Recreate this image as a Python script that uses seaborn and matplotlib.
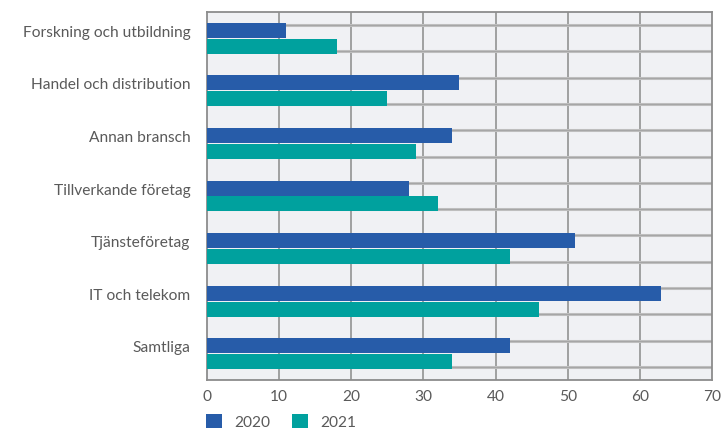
import matplotlib
matplotlib.use("Agg")
import matplotlib.pyplot as plt
import matplotlib.patches as mpatches
import matplotlib.transforms as mtransforms
import seaborn as sns
import pandas as pd
import numpy as np

categories = [
    "Forskning och utbildning",
    "Handel och distribution",
    "Annan bransch",
    "Tillverkande företag",
    "Tjänsteföretag",
    "IT och telekom",
    "Samtliga",
]
values_2020 = [11, 35, 34, 28, 51, 63, 42]
values_2021 = [18, 25, 29, 32, 42, 46, 34]
years = ["2020", "2021"]
x_ticks = [0, 10, 20, 30, 40, 50, 60, 70]

colors = {"2020": "#275ca9", "2021": "#00a19e"}
text_color = "#5a5a5a"

df = pd.DataFrame({
    "Kategori": categories * 2,
    "År": [years[0]] * len(categories) + [years[1]] * len(categories),
    "Värde": values_2020 + values_2021,
})

sns.set_theme(style="white")
plt.rcParams["font.family"] = ["Lato", "DejaVu Sans"]

fig = plt.figure(figsize=(7.22, 4.29), dpi=100)
ax = fig.add_axes([207 / 722, 1 - 380 / 429, (712 - 207) / 722, (380 - 12) / 429])
ax.set_facecolor("#f0f1f4")

sns.barplot(
    data=df, y="Kategori", x="Värde", hue="År", order=categories,
    hue_order=years, palette=colors, orient="h", width=0.6, gap=0.05,
    linewidth=0, saturation=1, ax=ax, legend=False, zorder=3,
)

ax.set_xlim(0, 70)
ax.set_ylim(len(categories) - 0.5, -0.5)
ax.set_xticks(x_ticks)
ax.set_xticklabels([str(t) for t in x_ticks])

# vertical grid
for t in x_ticks[1:-1]:
    ax.axvline(t, color="#8a8a8a", lw=1.1, zorder=1)
# horizontal grid at half-category steps, with a soft shadow
for y in np.arange(-0.25, len(categories) - 0.5, 0.5):
    ax.axhline(y, color="#c4c4c4", lw=2.2, zorder=1)
    ax.axhline(y, color="#a6a6a6", lw=1.0, zorder=1.5)

for side in ["top", "bottom", "left", "right"]:
    ax.spines[side].set_visible(True)
    ax.spines[side].set_color("#8c8c8c")
    ax.spines[side].set_linewidth(1.3)

ax.set_xlabel("")
ax.set_ylabel("")
ax.tick_params(axis="y", length=0, pad=12, labelsize=11.2, labelcolor=text_color)
ax.tick_params(axis="x", length=0, pad=7, labelsize=11.2, labelcolor=text_color)

# category labels sit level with the upper (2020) bar
shift = mtransforms.ScaledTranslation(0, 0.07, fig.dpi_scale_trans)
for lbl in ax.get_yticklabels():
    lbl.set_transform(lbl.get_transform() + shift)

handles = [mpatches.Patch(facecolor=colors[y], edgecolor="none", label=y) for y in years]
fig.legend(
    handles=handles, loc="upper left", bbox_to_anchor=(200 / 722, 1 - 408 / 429),
    ncol=2, frameon=False, fontsize=11.2, labelcolor=text_color,
    handlelength=1.0, handleheight=1.0, handletextpad=0.8, columnspacing=1.4,
    borderaxespad=0,
)

fig.savefig("out.png", dpi=100)
